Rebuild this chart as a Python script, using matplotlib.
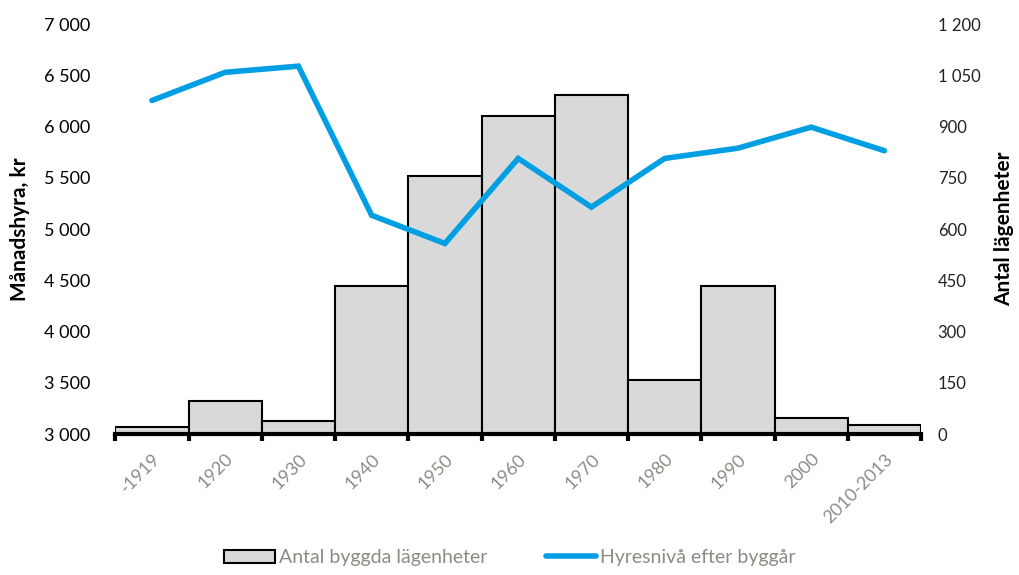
import matplotlib
matplotlib.use("Agg")
import matplotlib.pyplot as plt
import numpy as np
from matplotlib.ticker import FuncFormatter

categories = ["-1919", "1920", "1930", "1940", "1950", "1960", "1970", "1980", "1990", "2000", "2010-2013"]
apartments = [20, 97, 38, 433, 755, 931, 992, 158, 433, 47, 26]
rent = [6255, 6530, 6590, 5135, 4860, 5690, 5215, 5690, 5790, 5995, 5765]

plt.rcParams['font.family'] = ['Lato', 'DejaVu Sans']

fig = plt.figure(figsize=(10.2, 5.75), dpi=100)
ax = fig.add_axes([0.113, 0.245, 0.79, 0.713])
ax2 = ax.twinx()

x = np.arange(len(categories))

# bars on secondary axis
ax2.bar(x, apartments, width=1.0, color="#d9d9d9", edgecolor="black", linewidth=1.5, zorder=2,
        label="Antal byggda lägenheter")
ax2.set_ylim(0, 1200)
ax2.set_yticks(np.arange(0, 1201, 150))

# line on primary axis drawn above bars
ax.set_zorder(ax2.get_zorder() + 1)
ax.patch.set_visible(False)
ax.plot(x, rent, color="#009fe3", linewidth=4, solid_capstyle="round", solid_joinstyle="miter", zorder=3,
        label="Hyresnivå efter byggår")
ax.set_ylim(3000, 7000)
ax.set_yticks(np.arange(3000, 7001, 500))
ax.set_xlim(-0.5, len(categories) - 0.5)

fmt = FuncFormatter(lambda v, p: f"{int(v):,}".replace(",", " "))
ax.yaxis.set_major_formatter(fmt)
ax2.yaxis.set_major_formatter(fmt)

for a in (ax, ax2):
    for s in ["top", "right", "left", "bottom"]:
        a.spines[s].set_visible(False)

ax.spines["bottom"].set_visible(True)
ax.spines["bottom"].set_linewidth(3)
ax.spines["bottom"].set_color("black")

ax.set_xticks(x)
ax.set_xticklabels(categories, rotation=45, ha="right", rotation_mode="anchor", color="#8c8c84",
                   fontsize=13)
ax.set_xticks(np.arange(-0.5, len(categories), 1.0), minor=True)
ax.tick_params(axis="x", which="major", length=0, pad=12)
ax.tick_params(axis="x", which="minor", length=5, width=3, color="black", direction="out")

ax.tick_params(axis="y", length=0, labelsize=13, colors="black", pad=18)
ax2.tick_params(axis="y", length=0, labelsize=12, colors="#222222", pad=12)

ax.set_ylabel("Månadshyra, kr", fontsize=15, fontweight="bold", labelpad=10)
ax2.set_ylabel("Antal lägenheter", fontsize=15, fontweight="bold", labelpad=10)

h1, l1 = ax2.get_legend_handles_labels()
h2, l2 = ax.get_legend_handles_labels()
leg = fig.legend(h1 + h2, l1 + l2, loc="lower center", bbox_to_anchor=(0.5, -0.015), ncol=2,
                 frameon=False, fontsize=14, handlelength=2.6, handletextpad=0.2, columnspacing=3.0)
for t in leg.get_texts():
    t.set_color("#8c8c84")

fig.savefig("out.png", dpi=100)
